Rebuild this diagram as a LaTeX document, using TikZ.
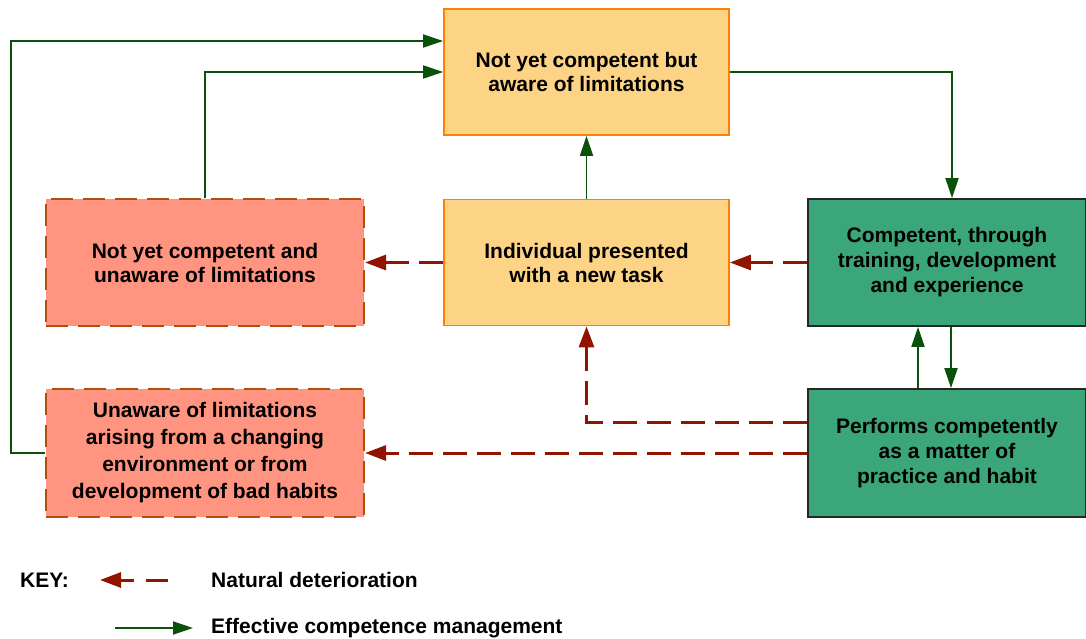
\documentclass[tikz,border=0pt]{standalone}
\usepackage{fontspec}
\setmainfont{Liberation Sans}
\usetikzlibrary{arrows.meta,calc}
\definecolor{orfill}{HTML}{FDD486}
\definecolor{ordraw}{HTML}{FF8000}
\definecolor{safill}{HTML}{FF9480}
\definecolor{sadraw}{HTML}{B0500A}
\definecolor{grfill}{HTML}{3CA67B}
\definecolor{grline}{HTML}{0A520A}
\definecolor{redline}{HTML}{901400}
\begin{document}
\begin{tikzpicture}[x=1pt,y=-1pt,
  boxtext/.style={font=\fontsize{21}{24}\selectfont\bfseries, align=center, inner sep=0pt},
  orbox/.style={boxtext, draw=ordraw, fill=orfill, line width=1.8pt, minimum width=285pt, minimum height=126pt},
  sabox/.style={boxtext, draw=sadraw, fill=safill, line width=2.2pt, dash pattern=on 22pt off 10pt, minimum width=318pt, minimum height=127pt},
  grbox/.style={boxtext, font=\fontsize{21}{25}\selectfont\bfseries, draw=black!85, fill=grfill, line width=1.8pt, minimum width=278pt, minimum height=127pt},
  good/.style={draw=grline, line width=1.9pt, -{Triangle[length=20pt,width=13pt]}},
  bad/.style={draw=redline, line width=3pt, dash pattern=on 24pt off 10pt, -{Triangle[length=21pt,width=15pt]}},
  keytext/.style={font=\fontsize{21}{24}\selectfont\bfseries, anchor=west, inner sep=0pt}
]
\useasboundingbox (0,0) rectangle (1086,639);

\node[orbox] (top) at (586.5,72) {Not yet competent but\\aware of limitations};
\node[orbox] (mid) at (586.5,262.5) {Individual presented\\with a new task};
\node[sabox] (lt) at (205,262.5) {Not yet competent and\\unaware of limitations};
\node[sabox, minimum height=128pt, font=\fontsize{21}{27}\selectfont\bfseries] (lb) at (205,453) {Unaware of limitations\\arising from a changing\\environment or from\\development of bad habits};
\node[grbox] (gt) at (947,262.5) {\raisebox{-5pt}{\begin{tabular}{@{}c@{}}Competent, through\\training, development\\and experience\end{tabular}}};
\node[grbox, minimum height=128pt] (gb) at (947,453) {\raisebox{-7pt}{\begin{tabular}{@{}c@{}}Performs competently\\as a matter of\\practice and habit\end{tabular}}};

% effective management
\draw[good] (lb.west) -- ($(lb.west)+(-34,0)$) |- ($(top.west)+(0,-31)$);
\draw[good] (lt.north) |- (top.west);
\draw[good] (top.east) -| ($(gt.north)+(5,0)$);
\draw[good] (mid.north) -- (top.south);
\draw[good] ($(gb.north)+(-29,0)$) -- ($(gt.south)+(-29,0)$);
\draw[good] ($(gt.south)+(4,0)$) -- ($(gb.north)+(4,0)$);

% natural deterioration
\draw[bad] (mid.west) -- (lt.east);
\draw[bad] (gt.west) -- (mid.east);
\draw[bad] ($(gb.west)+(0,-31)$) -| (mid.south);
\draw[bad] (gb.west) -- (lb.east);

% key
\node[keytext] (key) at (20,580) {KEY:};
\coordinate (k1s) at (168,580);
\coordinate (k1e) at (100,580);
\draw[bad, dash pattern=on 22pt off 12pt] (k1s) -- (k1e);
\node[keytext] (k1) at (211,580) {Natural deterioration};
\coordinate (k2s) at (115,628);
\coordinate (k2e) at (193,628);
\draw[good] (k2s) -- (k2e);
\node[keytext] (k2) at (211,628) {Effective competence management};
\end{tikzpicture}
\end{document}
